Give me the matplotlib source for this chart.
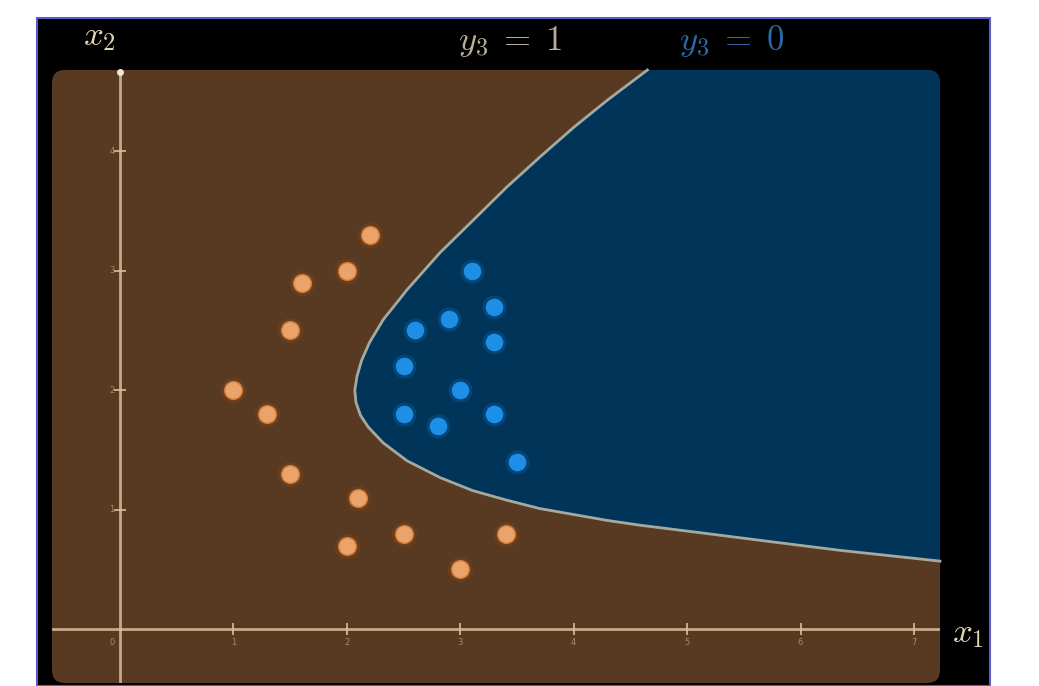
import matplotlib
matplotlib.use("Agg")
import matplotlib.pyplot as plt
from matplotlib.patches import FancyBboxPatch, Polygon, Rectangle

plt.rcParams['mathtext.fontset'] = 'cm'

# class y3 = 1 (orange)
orange_x1 = [2.2, 2.0, 1.6, 1.5, 1.0, 1.3, 1.5, 2.1, 2.5, 2.0, 3.0, 3.4]
orange_x2 = [3.3, 3.0, 2.9, 2.5, 2.0, 1.8, 1.3, 1.1, 0.8, 0.7, 0.5, 0.8]

# class y3 = 0 (blue)
blue_x1 = [3.1, 3.3, 2.9, 2.6, 3.3, 2.5, 3.0, 2.5, 2.8, 3.3, 3.5]
blue_x2 = [3.0, 2.7, 2.6, 2.5, 2.4, 2.2, 2.0, 1.8, 1.7, 1.8, 1.4]

# decision boundary (top -> vertex -> right edge)
bound_x1 = [4.65, 4.30, 4.00, 3.70, 3.41, 3.11, 2.82, 2.53, 2.32, 2.20, 2.13, 2.09,
            2.07, 2.08, 2.12, 2.19, 2.32, 2.53, 2.82, 3.11, 3.41, 3.70, 4.00,
            4.30, 4.59, 5.18, 5.76, 6.35, 7.23]
bound_x2 = [4.68, 4.43, 4.20, 3.95, 3.70, 3.42, 3.15, 2.84, 2.59, 2.40, 2.25, 2.12,
            2.00, 1.90, 1.79, 1.69, 1.56, 1.41, 1.27, 1.16, 1.08, 1.01, 0.96,
            0.91, 0.87, 0.80, 0.73, 0.66, 0.57]

x_ticks = [1, 2, 3, 4, 5, 6, 7]
y_ticks = [1, 2, 3, 4]

xlim = (-0.60, 7.23)
ylim = (-0.45, 4.68)

W, H = 1039, 686
fig = plt.figure(figsize=(W / 100, H / 100), dpi=100, facecolor='white')

# black video frame
fig.patches.append(Rectangle((37 / W, 0), (990 - 37) / W, (686 - 18) / H,
                             transform=fig.transFigure, facecolor='black',
                             edgecolor='#5a5ac8', linewidth=1.5, zorder=0))

ax = fig.add_axes([52 / W, 3 / H, (940 - 52) / W, (683 - 70) / H])
ax.set_zorder(2)
ax.set_facecolor('none')
ax.set_xlim(*xlim)
ax.set_ylim(*ylim)
ax.axis('off')

# rounded brown panel
panel = FancyBboxPatch((0.52, 0.03), 9.40 - 0.52, 6.16 - 0.03,
                       boxstyle="round,pad=0,rounding_size=0.13",
                       transform=fig.dpi_scale_trans, facecolor='#573a21',
                       edgecolor='none', zorder=1, clip_on=False)
ax.add_patch(panel)

# blue region (right of the boundary)
region = list(zip(bound_x1, bound_x2)) + [(xlim[1] + 0.2, bound_x2[-1]),
                                         (xlim[1] + 0.2, ylim[1] + 0.2),
                                         (bound_x1[0], ylim[1] + 0.2)]
blue = Polygon(region, closed=True, facecolor='#003459', edgecolor='none', zorder=2)
ax.add_patch(blue)
blue.set_clip_path(panel)
ax.plot(bound_x1, bound_x2, color='#a4aaa2', lw=2, zorder=3, clip_on=False,
        solid_joinstyle='round')

# axes lines
ax.axhline(0, color='#d9c09c', lw=2, alpha=0.85, zorder=3)
ax.axvline(0, color='#d9c09c', lw=2, alpha=0.85, zorder=3)
ax.plot([0], [ylim[1] - 0.02], 'o', color='#f2e6d0', ms=4, zorder=4, clip_on=False)
ax.plot(x_ticks, [0] * len(x_ticks), '|', color='#d9c09c', ms=8, mew=1.2, zorder=3)
ax.plot([0] * len(y_ticks), y_ticks, '_', color='#d9c09c', ms=8, mew=1.2, zorder=3)
for t in x_ticks:
    ax.text(t, -0.07, str(t), color='#c9ad86', fontsize=6, ha='center', va='top',
            alpha=0.7, zorder=3)
for t in y_ticks:
    ax.text(-0.05, t, str(t), color='#c9ad86', fontsize=6, ha='right', va='center',
            alpha=0.7, zorder=3)
ax.text(-0.05, -0.07, '0', color='#c9ad86', fontsize=6, ha='right', va='top',
        alpha=0.7, zorder=3)

# points with soft glow
ax.scatter(orange_x1, orange_x2, s=330, color='#7a4218', alpha=0.55, lw=0, zorder=5)
ax.scatter(orange_x1, orange_x2, s=165, color='#eaa469', edgecolor='#c9783c',
           lw=1, zorder=6)
ax.scatter(blue_x1, blue_x2, s=300, color='#0b5a9e', alpha=0.45, lw=0, zorder=5)
ax.scatter(blue_x1, blue_x2, s=160, color='#1d8fe6', lw=0, zorder=6)

# labels
cream = '#e3d6b4'
fig.text(99 / W, 1 - 45 / H, '$x_2$', color=cream, fontsize=25, ha='center',
         va='baseline')
fig.text(510 / W, 1 - 50 / H, r'$y_3 \;=\; 1$', color='#b8ae98', fontsize=25,
         ha='center', va='baseline')
fig.text(732 / W, 1 - 50 / H, r'$y_3 \;=\; 0$', color='#2b68a8', fontsize=25,
         ha='center', va='baseline')
fig.text(968 / W, 1 - 642 / H, '$x_1$', color=cream, fontsize=25, ha='center',
         va='baseline')

fig.savefig('out.png', dpi=100, facecolor='white')
